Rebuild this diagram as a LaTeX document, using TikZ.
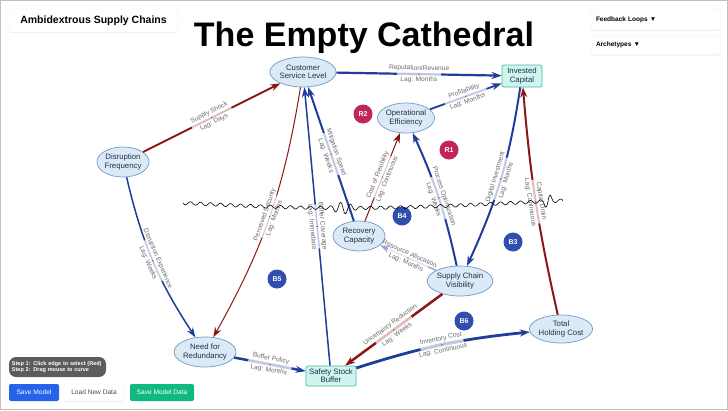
\documentclass[tikz,border=0pt]{standalone}
\usepackage{fontspec}
\setmainfont{Liberation Sans}
\usepackage{xcolor}
\usepackage{tikz}
\usetikzlibrary{arrows.meta,shapes.geometric,shadows}
\definecolor{edgeblue}{HTML}{1F3D9A}
\definecolor{edgered}{HTML}{8C1515}
\definecolor{nodefill}{HTML}{DCEAF7}
\definecolor{nodeline}{HTML}{6C9BC8}
\definecolor{stockfill}{HTML}{CDF6EE}
\definecolor{stockline}{HTML}{4DB89E}
\definecolor{loopred}{HTML}{C2255C}
\definecolor{loopblue}{HTML}{2F4EAE}
\definecolor{labelgray}{HTML}{6B6B6B}
\definecolor{inktext}{HTML}{22304A}
\definecolor{hintgray}{HTML}{5C5C5C}
\definecolor{btnblue}{HTML}{2563EB}
\definecolor{btngreen}{HTML}{10B981}

\begin{document}
\begin{tikzpicture}[x=1pt, y=-1pt,
    factor/.style={ellipse, draw=nodeline, fill=nodefill, line width=0.7pt, align=center,
        inner sep=0pt, text=inktext, font=\fontsize{7.8}{8.3}\selectfont},
    stock/.style={rectangle, rounded corners=2pt, draw=stockline, fill=stockfill, line width=0.7pt,
        align=center, inner sep=1.5pt, text=inktext, font=\fontsize{7.8}{8.3}\selectfont},
    loopmark/.style={circle, fill=#1, text=white, minimum size=19pt, inner sep=0pt,
        font=\fontsize{7}{8}\selectfont\bfseries},
    posedge/.style={draw=edgeblue, line width=1.8pt, -{Stealth[length=10pt,width=7pt]}},
    negedge/.style={draw=edgered, line width=1.8pt, -{Stealth[length=10pt,width=7pt]}},
    lagbar/.style={sloped, fill=white, fill opacity=0.72, inner sep=0pt, minimum width=44pt, minimum height=3.2pt},
    lagdot/.style={circle, fill=labelgray, inner sep=0.55pt},
    lagname/.style={sloped, above, inner sep=1.5pt, text=labelgray, font=\fontsize{6.6}{7}\selectfont},
    lagtime/.style={sloped, below, inner sep=1.5pt, text=labelgray, font=\fontsize{6.6}{7}\selectfont},
    lag/.style 2 args={edge node={node[lagbar]{} node[lagdot]{} node[lagname]{#1} node[lagtime]{#2}}},
    panel/.style={draw=black!6, fill=white, rounded corners=2pt, inner sep=0pt,
        drop shadow={opacity=0.12, shadow xshift=0pt, shadow yshift=-1pt}},
    button/.style={rounded corners=2pt, inner sep=0pt, minimum height=17pt, font=\fontsize{6.6}{7}\selectfont}]

    \useasboundingbox (0,0) rectangle (728,410);
    \draw[black!25, fill=white] (0.5,0.5) rectangle (727.5,409.5);

    % header and panels
    \node[font=\fontsize{34}{40}\selectfont\bfseries] (title) at (364,38) {The Empty Cathedral};
    \node[panel, minimum width=169pt, minimum height=23pt, font=\fontsize{10.5}{12}\selectfont\bfseries] (brand) at (93.5,20.5) {Ambidextrous Supply Chains};
    \node[panel, minimum width=129pt, minimum height=21pt, text width=119pt, align=left, font=\fontsize{6.5}{7}\selectfont\bfseries] (loopsmenu) at (655.5,19.5) {Feedback Loops ▼};
    \node[panel, minimum width=129pt, minimum height=19pt, text width=119pt, align=left, font=\fontsize{6.5}{7}\selectfont\bfseries] (archmenu) at (655.5,45) {Archetypes ▼};

    % variables
    \node[factor, minimum width=62pt, minimum height=30pt] (service) at (303,72) {Customer\\Service Level};
    \node[stock, minimum width=40pt, minimum height=22pt] (capital) at (522,76) {Invested\\Capital};
    \node[factor, minimum width=56pt, minimum height=30pt] (efficiency) at (406,118) {Operational\\Efficiency};
    \node[factor, minimum width=52pt, minimum height=30pt] (disruption) at (123,162) {Disruption\\Frequency};
    \node[factor, minimum width=52pt, minimum height=30pt] (recovery) at (359,236) {Recovery\\Capacity};
    \node[factor, minimum width=60pt, minimum height=30pt] (visibility) at (460,281) {Supply Chain\\Visibility};
    \node[factor, minimum width=58pt, minimum height=30pt] (redundancy) at (205,352) {Need for\\Redundancy};
    \node[stock, minimum width=50pt, minimum height=20pt] (buffer) at (331,376) {Safety Stock\\Buffer};
    \node[factor, minimum width=58pt, minimum height=28pt] (holding) at (561,329) {Total\\Holding Cost};

    % loop markers
    \node[loopmark=loopred] (r2) at (363,114) {R2};
    \node[loopmark=loopred] (r1) at (449,150) {R1};
    \node[loopmark=loopblue] (b4) at (402,216) {B4};
    \node[loopmark=loopblue] (b3) at (513,242) {B3};
    \node[loopmark=loopblue] (b5) at (277,279) {B5};
    \node[loopmark=loopblue] (b6) at (464,321) {B6};

    % causal links
    \draw[negedge, line width=2pt] (disruption) to[lag={Supply Shock}{Lag: Days}] (service);
    \draw[posedge, line width=2.2pt] (service) to[lag={Reputation/Revenue}{Lag: Months}] (capital);
    \draw[posedge] (efficiency) to[lag={Profitability}{Lag: Months}] (capital);
    \draw[posedge, line width=1.5pt] (disruption) to[bend right=10, lag={Disruption Experience}{Lag: Weeks}] (redundancy);
    \draw[negedge, line width=1pt] (service) to[bend left=10, lag={Perceived Security}{Lag: Months}] (redundancy);
    \draw[posedge, line width=1.5pt] (buffer) to[lag={Buffer Coverage}{Lag: Immediate}] (service);
    \draw[posedge, line width=2pt] (recovery) to[lag={Mitigation Speed}{Lag: Weeks}] (service);
    \draw[negedge, line width=1pt] (recovery) to[lag={Cost of Flexibility}{Lag: Continuous}] (efficiency);
    \draw[posedge, line width=2pt] (visibility) to[bend right=6, lag={Process Optimization}{Lag: Weeks}] (efficiency);
    \draw[posedge, line width=2pt] (capital) to[bend left=8, lag={Digital Investment}{Lag: Months}] (visibility);
    \draw[negedge, line width=2pt] (holding) to[bend left=4, lag={Capital Drain}{Lag: Continuous}] (capital);
    \draw[posedge, draw=edgeblue!45, line width=1.5pt] (visibility) to[lag={Resource Allocation}{Lag: Months}] (recovery);
    \draw[negedge, line width=2.5pt] (visibility) to[lag={Uncertainty Reduction}{Lag: Weeks}] (buffer);
    \draw[posedge, line width=2.5pt] (redundancy) to[lag={Buffer Policy}{Lag: Months}] (buffer);
    \draw[posedge, line width=2.8pt] (buffer) to[bend left=6, lag={Inventory Cost}{Lag: Continuous}] (holding);

    % hand-drawn squiggle
    \draw[black, line width=0.6pt] plot[domain=0:380, samples=420]
        ({183+\x}, {203 + 5*sin(0.55*\x) + (1.6 + 5*max(0,1-abs(\x-160)/14) + 7*max(0,1-abs(\x-365)/6))*sin(36*\x)});

    % controls
    \node[fill=hintgray, rounded corners=7pt, text=white, align=left, inner sep=0pt,
          minimum width=97pt, minimum height=20pt, text width=91pt,
          font=\fontsize{5.5}{6.8}\selectfont\bfseries] (hint) at (57.5,367)
          {Step 1: Click edge to select (Red)\\Step 2: Drag mouse to curve};
    \node[button, fill=btnblue, text=white, minimum width=50pt] (savemodel) at (34,392.5) {Save Model};
    \node[button, fill=white, draw=black!6, text=black!70, minimum width=60pt,
          drop shadow={opacity=0.12, shadow xshift=0pt, shadow yshift=-1pt}] (loaddata) at (94,392.5) {Load New Data};
    \node[button, fill=btngreen, text=white, minimum width=64pt] (savedata) at (162,392.5) {Save Model Data};
\end{tikzpicture}
\end{document}
